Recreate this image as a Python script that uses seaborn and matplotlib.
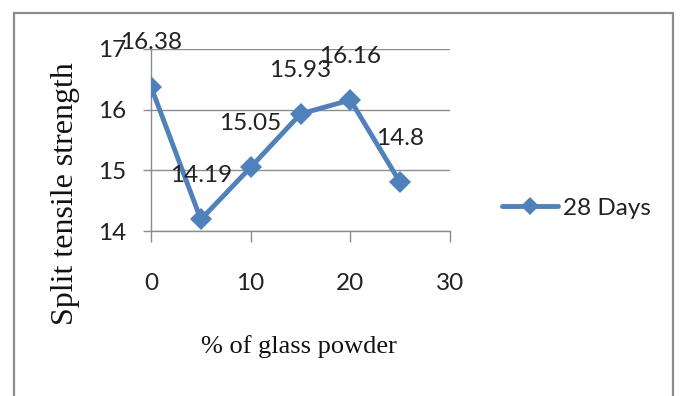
import matplotlib
matplotlib.use("Agg")
import matplotlib.pyplot as plt
import matplotlib.patches as mpatches
import seaborn as sns
import pandas as pd

# Split tensile strength at 28 days vs. glass powder replacement
glass_powder_pct = [0, 5, 10, 15, 20, 25]
strength_28d = [16.38, 14.19, 15.05, 15.93, 16.16, 14.8]
series_name = "28 Days"
x_ticks = [0, 10, 20, 30]
y_ticks = [14, 15, 16, 17]

df = pd.DataFrame({"pct": glass_powder_pct, "strength": strength_28d, "series": series_name})

sns.set_theme(style="white")
sans = ["Lato", "DejaVu Sans"]
serif = ["Liberation Serif", "DejaVu Serif"]
plt.rcParams["font.family"] = sans

blue = "#4F81BD"
grey = "#8C8C8C"
ink = "#222222"

fig = plt.figure(figsize=(6.8, 3.96), dpi=100)
ax = fig.add_axes([151 / 680, 1 - 231 / 396, 299 / 680, 182 / 396])

sns.lineplot(data=df, x="pct", y="strength", hue="series", palette=[blue],
             marker="D", markersize=11, markeredgewidth=0, linewidth=3.5,
             ax=ax, legend=True)

ax.set_xlim(0, 30)
ax.set_ylim(14, 17)
ax.set_xticks(x_ticks)
ax.set_yticks(y_ticks)
ax.yaxis.grid(True, color=grey, linewidth=1.0)
ax.xaxis.grid(False)
ax.set_axisbelow(True)
for side in ("top", "right"):
    ax.spines[side].set_visible(False)
for side in ("left", "bottom"):
    ax.spines[side].set_color(grey)
    ax.spines[side].set_linewidth(1.0)
    ax.spines[side].set_zorder(0)

ax.tick_params(axis="y", direction="out", length=6, width=1, color=grey,
               pad=12, labelsize=17.5, labelcolor=ink, left=True)
ax.tick_params(axis="x", direction="out", length=8, width=1, color=grey,
               pad=22, labelsize=17.5, labelcolor=ink, bottom=True)

# Value labels above each point
for x, y in zip(glass_powder_pct, strength_28d):
    ax.annotate(f"{y:g}", (x, y), xytext=(0, 31.5), textcoords="offset points",
                ha="center", va="center", fontsize=17.5, color=ink,
                family=sans, zorder=5)

ax.set_xlabel("% of glass powder", family=serif, fontsize=19, color="#111111")
ax.set_ylabel("Split tensile strength", family=serif, fontsize=23, color="#111111")
ax.xaxis.label.set_va("center")
ax.xaxis.label.set_ha("center")
ax.xaxis.set_label_coords((299 - 151) / 299, (231 - 347) / 182)
ax.yaxis.set_label_coords((66 - 151) / 299, (231 - 193.5) / 182)
ax.yaxis.label.set_va("center")
ax.yaxis.label.set_ha("center")

leg = ax.legend(loc="center left", bbox_to_anchor=(502 / 680, 1 - 208 / 396),
                bbox_transform=fig.transFigure, frameon=False, fontsize=17.5,
                handlelength=2.3, handletextpad=0.2, borderpad=0, borderaxespad=0)
for h in leg.legend_handles:
    h.set_markersize(9)
    h.set_linewidth(3.5)
for t in leg.get_texts():
    t.set_color(ink)

# Chart-area frame (bottom edge runs off the canvas)
frame = mpatches.Rectangle((14 / 680, -0.1), (673 - 14) / 680, 1.1 - 13 / 396,
                           transform=fig.transFigure, fill=False,
                           edgecolor=grey, linewidth=1.6, zorder=10)
fig.patches.append(frame)

fig.savefig("out.png", dpi=100)
